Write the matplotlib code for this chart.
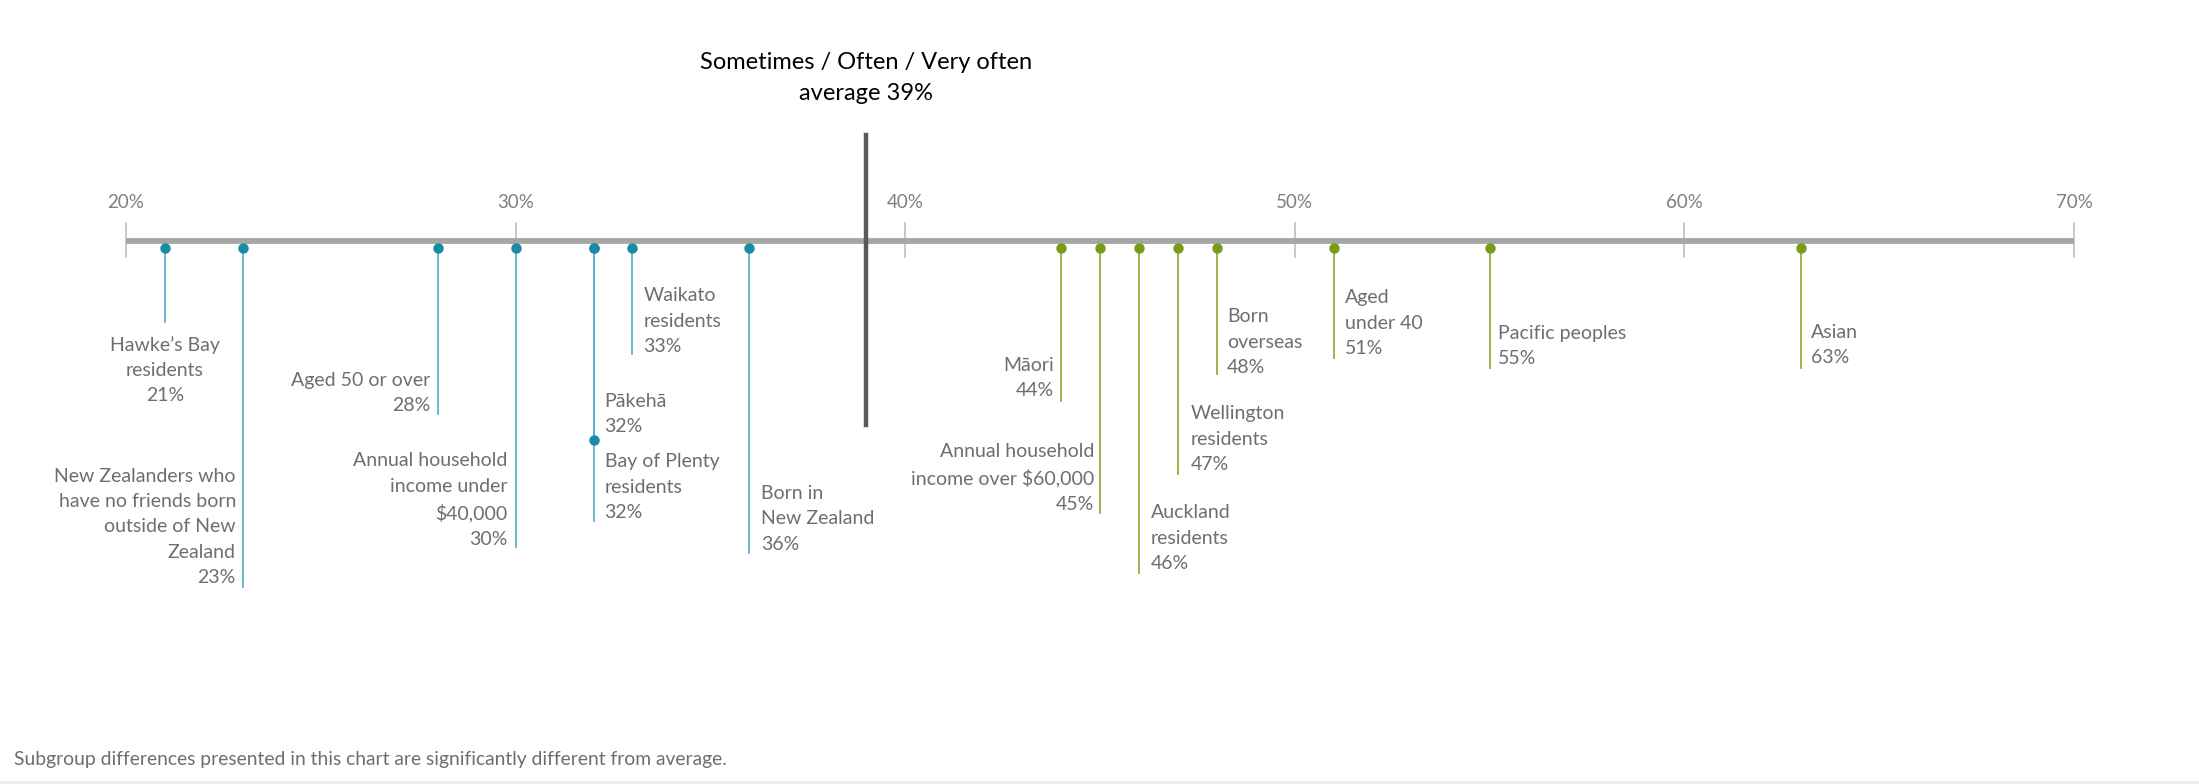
import matplotlib
matplotlib.use("Agg")
import matplotlib.pyplot as plt

plt.rcParams['font.family'] = ['Lato', 'DejaVu Sans']

# data
blue_names = ["Hawke\u2019s Bay\nresidents",
              "New Zealanders who\nhave no friends born\noutside of New\nZealand",
              "Aged 50 or over",
              "Annual household\nincome under\n$40,000",
              "P\u0101keh\u0101",
              "Bay of Plenty\nresidents",
              "Waikato\nresidents",
              "Born in\nNew Zealand"]
blue_vals = [21, 23, 28, 30, 32, 32, 33, 36]

green_names = ["M\u0101ori",
               "Annual household\nincome over $60,000",
               "Auckland\nresidents",
               "Wellington\nresidents",
               "Born\noverseas",
               "Aged\nunder 40",
               "Pacific peoples",
               "Asian"]
green_vals = [44, 45, 46, 47, 48, 51, 55, 63]

average = 39
ticks = [20, 30, 40, 50, 60, 70]
title = "Sometimes / Often / Very often\naverage 39%"
note = "Subgroup differences presented in this chart are significantly different from average."

# layout (pixel rows: stem end, label middle, alignment, offset in px)
blue_stem = [322, 587, 414, 547, 440, 521, 354, 553]
blue_lab = [370, 527, 393, 500, 414, 487, 321, 519]
blue_ha = ['center', 'right', 'right', 'right', 'left', 'left', 'left', 'left']
blue_dx = [0, -7, -7, -8, 11, 11, 11, 12]

green_stem = [401, 513, 573, 474, 374, 358, 368, 368]
green_lab = [378, 478, 538, 439, 342, 323, 346, 345]
green_ha = ['right', 'right', 'left', 'left', 'left', 'left', 'left', 'left']
green_dx = [-7, -6, 12, 13, 10, 11, 8, 10]

W, H = 2199, 784
fig = plt.figure(figsize=(W / 100, H / 100), dpi=100)
ax = fig.add_axes([0, 0, 1, 1])
px10 = (2074 - 126) / 50.0  # px per 1%
ax.set_xlim(20 - 126 / px10, 20 + (W - 126) / px10)
ax.set_ylim(H, 0)
ax.axis('off')

axis_y = 241
dot_y = 248
ax.plot([20, 70], [axis_y, axis_y], color='#a6a6a6', lw=4.2, solid_capstyle='butt', zorder=2)
for t in ticks:
    ax.plot([t, t], [223, 257], color='#bfbfbf', lw=1.2, zorder=1)
    ax.text(t, 202, f"{t}%", ha='center', va='center', fontsize=13.5, color='#7f7f7f')

ax.plot([average, average], [135, 425], color='#595959', lw=3.2, zorder=4)
ax.text(average, 78, title, ha='center', va='center', fontsize=17, color='black',
        linespacing=1.6)

label_col = '#6e6e6e'


def draw(names, vals, stems, labs, has, dxs, dot_c, stem_c):
    for n, v, s, ly, ha, dx in zip(names, vals, stems, labs, has, dxs):
        ax.plot([v, v], [dot_y, s], color=stem_c, lw=1.3, zorder=3)
        ax.plot(v, dot_y, 'o', color=dot_c, ms=6.5, zorder=5)
        ax.annotate(f"{n}\n{v}%", xy=(v, ly), xytext=(dx * 0.72, 0),
                    textcoords='offset points', ha=ha, va='center',
                    multialignment=ha, fontsize=14, color=label_col,
                    linespacing=1.6)


draw(blue_names, blue_vals, blue_stem, blue_lab, blue_ha, blue_dx, '#1b8aa6', '#5cb4cc')
draw(green_names, green_vals, green_stem, green_lab, green_ha, green_dx, '#7a9a1c', '#8fb03a')
# Pakeha connector end dot
ax.plot(blue_vals[4], blue_stem[4], 'o', color='#1b8aa6', ms=6.5, zorder=5)

ax.text(14 / px10 + ax.get_xlim()[0], 760, note, ha='left', va='center',
        fontsize=13.9, color='#6e6e6e')
ax.plot(ax.get_xlim(), [782, 782], color='#eeeeee', lw=2)

fig.savefig('out.png', dpi=100)
